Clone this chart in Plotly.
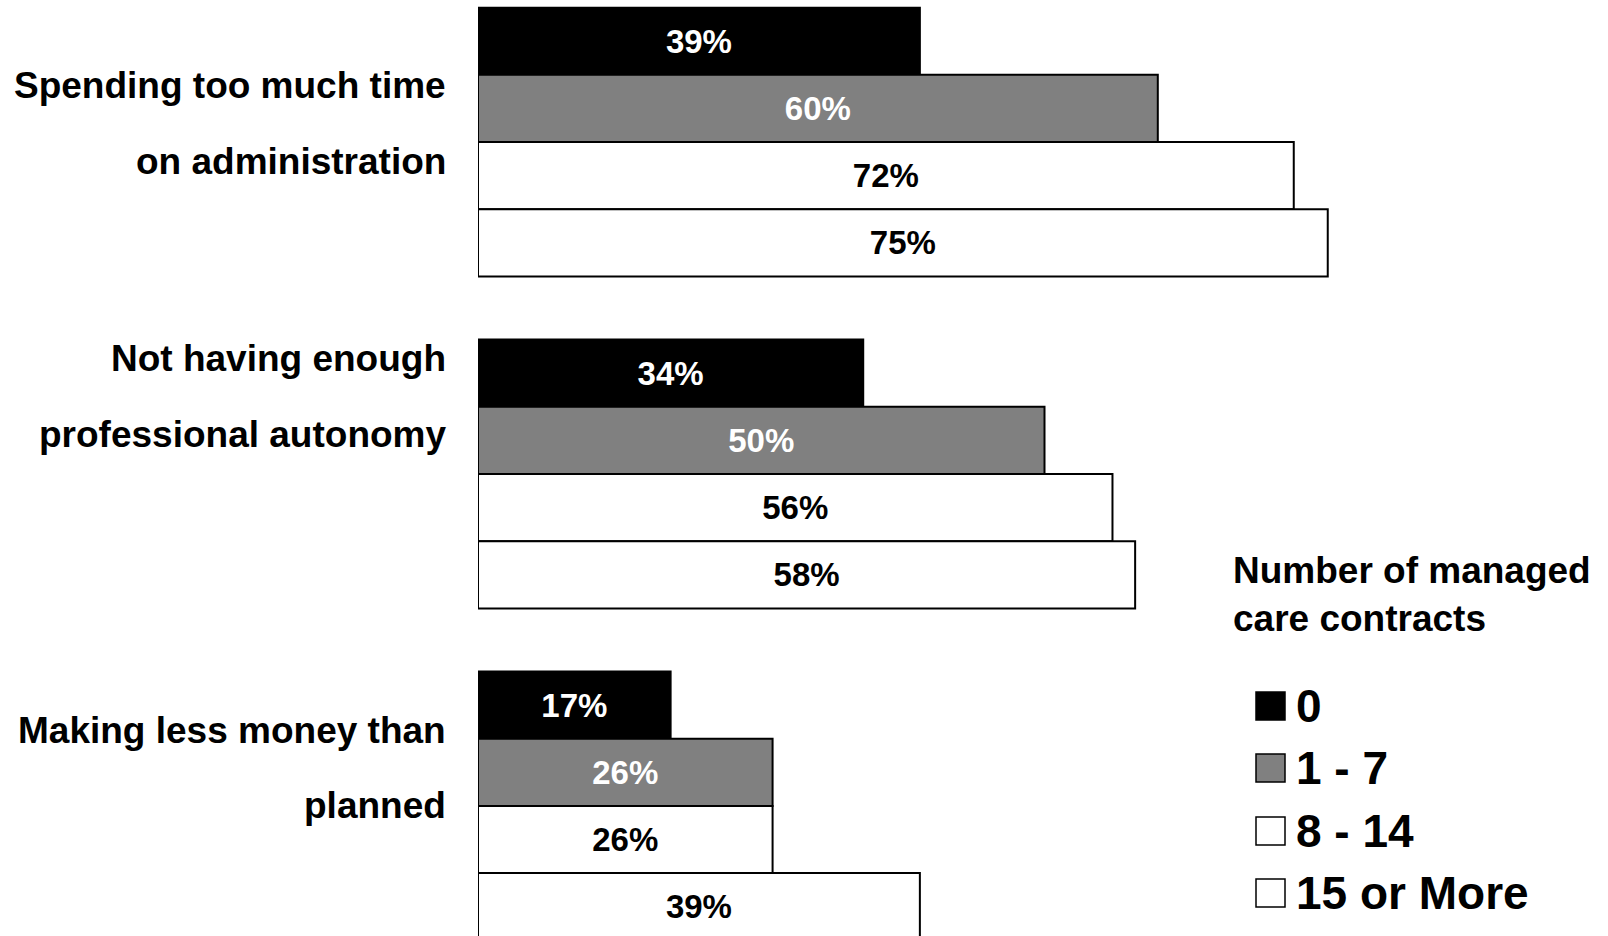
import plotly.graph_objects as go

# Survey categories, each stored as the two lines of its label
category_lines = [
    ["Spending too much time", "on administration"],
    ["Not having enough", "professional autonomy"],
    ["Making less money than", "planned"],
]
categories = [" ".join(lines) for lines in category_lines]

# Series: number of managed care contracts
series_names = ["0", "1 - 7", "8 - 14", "15 or More"]
vals_0 = [39, 34, 17]
vals_1_7 = [60, 50, 26]
vals_8_14 = [72, 56, 26]
vals_15_more = [75, 58, 39]
series_values = [vals_0, vals_1_7, vals_8_14, vals_15_more]

fill_colors = ["#000000", "#808080", "#ffffff", "#ffffff"]
text_colors = ["#ffffff", "#ffffff", "#000000", "#000000"]

FONT = "Liberation Sans, Arial, Helvetica, sans-serif"
W, H = 1608, 936
ML = 478
PLOT_W = W - ML
PX_PER_PCT = 11.33

fig = go.Figure()
for name, vals, fc, tc in zip(series_names, series_values, fill_colors, text_colors):
    fig.add_trace(go.Bar(
        name=name,
        y=categories,
        x=vals,
        orientation="h",
        marker=dict(color=fc, line=dict(color="#000000", width=2)),
        text=[f"{v}%" for v in vals],
        textposition="inside",
        insidetextanchor="middle",
        textfont=dict(family=FONT, size=33, color=tc, weight="bold"),
        showlegend=False,
        hoverinfo="skip",
    ))


def paper_x(px):
    return (px - ML) / PLOT_W


def paper_y(py):
    return 1 - py / H


annotations = []

# Two-line category labels to the left of each group (vertical pixel shifts)
label_shifts = [[57, -19], [115, 39], [75.5, 0.5]]
for i, (lines, shifts) in enumerate(zip(category_lines, label_shifts)):
    for line, shift in zip(lines, shifts):
        annotations.append(dict(
            text=line, x=paper_x(448), xref="paper", xanchor="right",
            y=i, yref="y", yanchor="middle", yshift=shift,
            showarrow=False,
            font=dict(family=FONT, size=37, color="#000000", weight="bold"),
        ))

# Key: title plus a square swatch for each series
annotations.append(dict(
    text="Number of managed<br>care contracts",
    x=paper_x(1231), xref="paper", xanchor="left",
    y=paper_y(594), yref="paper", yanchor="middle",
    align="left", showarrow=False,
    font=dict(family=FONT, size=37, color="#000000", weight="bold"),
))

shapes = []
key_rows = [706, 768, 831, 893]
for name, fc, cy in zip(series_names, fill_colors, key_rows):
    shapes.append(dict(
        type="rect", xref="paper", yref="paper",
        x0=paper_x(1256), x1=paper_x(1285),
        y0=paper_y(cy + 14), y1=paper_y(cy - 14),
        fillcolor=fc, line=dict(color="#000000", width=1.5),
    ))
    annotations.append(dict(
        text=name, x=paper_x(1294), xref="paper", xanchor="left",
        y=paper_y(cy), yref="paper", yanchor="middle",
        showarrow=False,
        font=dict(family=FONT, size=46, color="#000000", weight="bold"),
    ))

fig.update_layout(
    width=W, height=H,
    margin=dict(l=ML, r=0, t=0, b=0),
    paper_bgcolor="#ffffff", plot_bgcolor="#ffffff",
    barmode="group", bargap=0.19, bargroupgap=0,
    xaxis=dict(range=[0, PLOT_W / PX_PER_PCT], visible=False, fixedrange=True),
    yaxis=dict(type="category", range=[2.392, -0.428], visible=False, fixedrange=True),
    annotations=annotations,
    shapes=shapes,
    uniformtext=dict(mode=False),
)

fig.write_html("out.html")
